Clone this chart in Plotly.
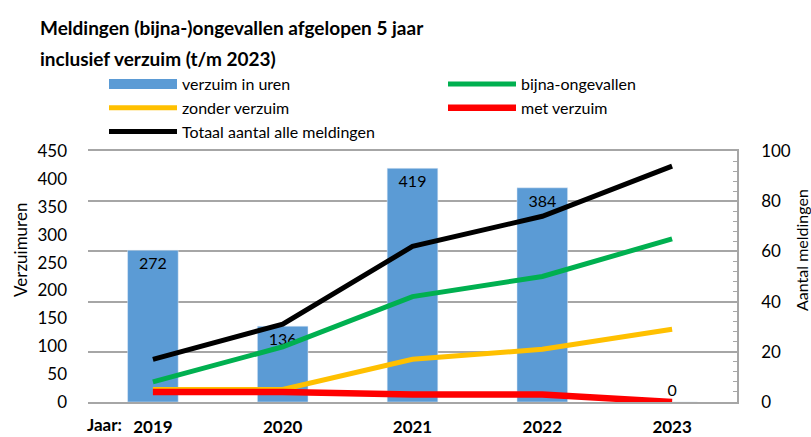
import plotly.graph_objects as go

years = ["2019", "2020", "2021", "2022", "2023"]
verzuim_uren = [272, 136, 419, 384, 0]
bijna_ongevallen = [8, 22, 42, 50, 65]
zonder_verzuim = [5, 5, 17, 21, 29]
met_verzuim = [4, 4, 3, 3, 0]
totaal = [17, 31, 62, 74, 94]

FONT = "Lato"
GRID = "#a6a6a6"

fig = go.Figure()

fig.add_trace(go.Bar(
    x=years, y=verzuim_uren, name="verzuim in uren", marker_color="#5b9bd5",
    text=[str(v) for v in verzuim_uren],
    textposition=["inside", "inside", "inside", "inside", "outside"],
    insidetextanchor="end", textangle=0,
    textfont=dict(family=FONT, size=16, color="#000000"),
    showlegend=False, yaxis="y", cliponaxis=False,
))
# legend swatch for the bars
fig.add_trace(go.Scatter(x=[None], y=[None], mode="lines", name="verzuim in uren",
                         line=dict(color="#5b9bd5", width=12), yaxis="y", legend="legend"))
fig.add_trace(go.Scatter(x=years, y=bijna_ongevallen, name="bijna-ongevallen", mode="lines",
                         line=dict(color="#00b050", width=5), yaxis="y2", legend="legend2"))
fig.add_trace(go.Scatter(x=years, y=zonder_verzuim, name="zonder verzuim", mode="lines",
                         line=dict(color="#ffc000", width=5), yaxis="y2", legend="legend"))
fig.add_trace(go.Scatter(x=years, y=met_verzuim, name="met verzuim", mode="lines",
                         line=dict(color="#ff0000", width=6.5), yaxis="y2", legend="legend2"))
fig.add_trace(go.Scatter(x=years, y=totaal, name="Totaal aantal alle meldingen", mode="lines",
                         line=dict(color="#000000", width=5), yaxis="y2", legend="legend"))

L, R, T, B = 88, 74, 151, 35
W, H = 811, 437
pw, ph = W - L - R, H - T - B

def px(x):
    return (x - L) / pw

def py(y):
    return (H - B - y) / ph

legend_common = dict(orientation="v", xanchor="left", yanchor="top", itemwidth=68,
                     font=dict(family=FONT, size=16), traceorder="normal",
                     bgcolor="rgba(0,0,0,0)", itemclick=False, tracegroupgap=0)

fig.update_layout(
    width=W, height=H,
    margin=dict(l=L, r=R, t=T, b=B, pad=0, autoexpand=False),
    paper_bgcolor="white", plot_bgcolor="white",
    font=dict(family=FONT, size=16, color="#000000"),
    bargap=0.61,
    showlegend=True,
    legend=dict(x=px(104), y=py(67), **legend_common),
    legend2=dict(x=px(443), y=py(67), **legend_common),
    xaxis=dict(type="category", showgrid=False, showline=True, mirror=True, linecolor=GRID,
               linewidth=1.5, ticks="",
               tickfont=dict(family=FONT, size=17, color="#000000", weight="bold"),
               ticklabelstandoff=9, fixedrange=True, automargin=False),
    yaxis=dict(range=[0, 450], dtick=50, showgrid=False, zeroline=False, showline=False,
               ticks="", tickfont=dict(family=FONT, size=17), ticklabelstandoff=20,
               automargin=False),
    yaxis2=dict(range=[0, 100], dtick=20, overlaying="y", side="right", showgrid=True,
                gridcolor=GRID, gridwidth=1.5, zeroline=False, showline=True, linecolor=GRID,
                linewidth=1.5, ticks="", tickfont=dict(family=FONT, size=17),
                ticklabelstandoff=19, automargin=False,
                minor=dict(dtick=4, ticks="inside", ticklen=4, tickcolor=GRID, tickwidth=1.2,
                           showgrid=False)),
    annotations=[
        dict(text="<b>Meldingen (bijna-)ongevallen afgelopen 5 jaar</b>", xref="paper", yref="paper",
             x=px(38), y=py(27), xanchor="left", yanchor="middle", showarrow=False,
             font=dict(family=FONT, size=19)),
        dict(text="<b>inclusief verzuim (t/m 2023)</b>", xref="paper", yref="paper",
             x=px(38), y=py(58), xanchor="left", yanchor="middle", showarrow=False,
             font=dict(family=FONT, size=19)),
        dict(text="Verzuimuren", xref="paper", yref="paper", x=px(20), y=py(250),
             xanchor="center", yanchor="middle", textangle=-90, showarrow=False,
             font=dict(family=FONT, size=17)),
        dict(text="Aantal meldingen", xref="paper", yref="paper", x=px(801), y=py(250),
             xanchor="center", yanchor="middle", textangle=-90, showarrow=False,
             font=dict(family=FONT, size=16)),
        dict(text="<b>Jaar:</b>", xref="paper", yref="paper", x=px(104), y=py(424),
             xanchor="center", yanchor="middle", showarrow=False,
             font=dict(family=FONT, size=17)),
    ],
)

fig.write_html("out.html")
